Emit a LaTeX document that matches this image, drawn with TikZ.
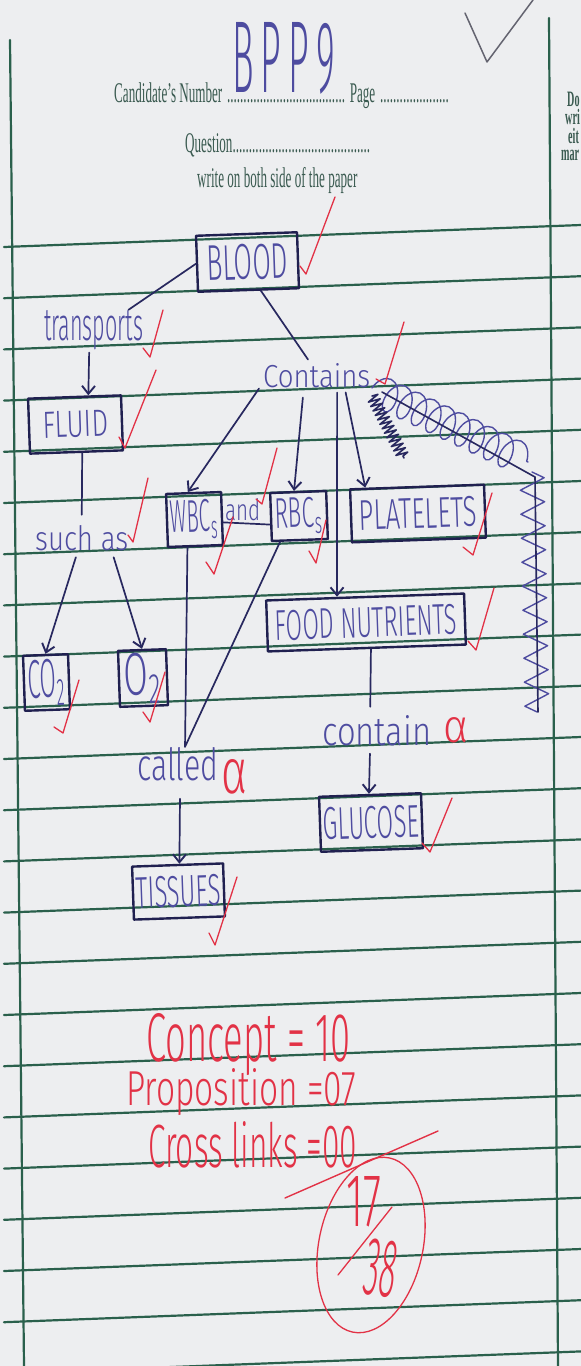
\documentclass[tikz,border=0pt]{standalone}
\usepackage{fontspec}
\usepackage{graphicx}
\setmainfont{Liberation Serif}
\newfontfamily\printed{Liberation Serif}[FakeStretch=0.46]
\newfontfamily\hand{Fira Sans Light}
\usetikzlibrary{arrows.meta,decorations.pathmorphing,calc}

\definecolor{paper}{RGB}{237,238,240}
\definecolor{rulegreen}{RGB}{42,96,76}
\definecolor{printink}{RGB}{58,90,80}
\definecolor{boxink}{RGB}{32,32,80}
\definecolor{penblue}{RGB}{78,76,160}
\definecolor{lineink}{RGB}{40,40,95}
\definecolor{redink}{RGB}{226,50,70}
\definecolor{pencil}{RGB}{100,100,112}

% squeeze a piece of handwriting into a given width and height
\newcommand\fitto[3]{\resizebox{#1pt}{#2pt}{#3}}

\begin{document}
\begin{tikzpicture}[x=1pt,y=-1pt,line cap=round,line join=round,
  concept/.style={draw=boxink,line width=2.4pt,inner sep=0pt,rotate=2,text=penblue,font=\hand},
  linkword/.style={inner sep=0pt,text=penblue,font=\hand},
  link/.style={draw=lineink,line width=1.7pt},
  arrowlink/.style={link,-{Straight Barb[length=8pt,width=13pt,line width=1.9pt]}},
  tick/.style={draw=redink,line width=1.3pt},
  score/.style={inner sep=0pt,text=redink,font=\hand},
  printed/.style={inner sep=0pt,text=printink,font=\printed\fontsize{28.5}{28.5}\selectfont,anchor=base west},
  marginnote/.style={inner sep=0pt,text=printink,font=\printed\fontsize{22}{22}\selectfont\bfseries,anchor=base west},
  ruleline/.style={draw=rulegreen,line width=2.2pt}]

\clip (0,0) rectangle (581,1366);
\fill[paper] (0,0) rectangle (581,1366);

% ruled paper
\foreach \k in {0,...,22}{
  \draw[ruleline] (4,{247+51.2*\k}) -- (581,{225+51.2*\k});
}
\draw[ruleline] (10,40) -- (24,1366);
\draw[ruleline] (549,18) -- (558,1366);

% printed header
\node[printed] (cand) at (114,102) {Candidate’s Number\,....................................\,Page\,.....................};
\node[printed] (question) at (185,152) {Question..........................................};
\node[printed] (side) at (197,187) {write on both side of the paper};
\node[marginnote] (m1) at (567,106) {Do};
\node[marginnote] (m2) at (565,124) {wri};
\node[marginnote] (m3) at (568,143) {eit};
\node[marginnote] (m4) at (561,160) {mar};

% candidate number and pencil tick
\node[linkword,anchor=base west] (candno) at (232,92) {\fitto{103}{70}{B\kern2pt P\kern2pt P\kern2pt 9}};
\draw[pencil,line width=1.5pt] (465,13) -- (487,62) -- (533,0);

% concepts
\node[concept,minimum width=101pt,minimum height=56pt] (blood) at (247.5,262) {\fitto{81}{35}{BLOOD}};
\node[concept,minimum width=93pt,minimum height=55pt] (fluid) at (75.5,424.5) {\fitto{65}{26}{FLUID}};
\node[concept,minimum width=55pt,minimum height=53pt] (wbc) at (194.5,519.5) {\fitto{48}{32}{WBC\textsubscript{s}}};
\node[concept,minimum width=56pt,minimum height=48pt] (rbc) at (299,516) {\fitto{48}{30}{RBC\textsubscript{s}}};
\node[concept,minimum width=134pt,minimum height=53pt] (platelets) at (418,513.5) {\fitto{118}{30}{PLATELETS}};
\node[concept,minimum width=198pt,minimum height=51pt] (food) at (366,622.5) {\fitto{182}{30}{FOOD NUTRIENTS}};
\node[concept,minimum width=45pt,minimum height=55pt] (co2) at (46.5,682.5) {\fitto{38}{38}{CO\textsubscript{2}}};
\node[concept,minimum width=48pt,minimum height=56pt] (o2) at (143,678) {\fitto{38}{42}{O\textsubscript{2}}};
\node[concept,minimum width=102pt,minimum height=55pt] (glucose) at (371,822.5) {\fitto{96}{32}{GLUCOSE}};
\node[concept,minimum width=91pt,minimum height=53pt] (tissues) at (178.5,891.5) {\fitto{85}{31}{TISSUES}};

% linking words
\node[linkword,anchor=base west] (transports) at (44,340) {\fitto{99}{30}{transports}};
\node[linkword,anchor=base west] (contains) at (263,387) {\fitto{107}{24}{Contains}};
\node[linkword,anchor=base west] (suchas) at (35,550) {\fitto{93}{25}{such as}};
\node[linkword,anchor=base west] (and) at (225,520) {\fitto{35}{22}{and}};
\node[linkword,anchor=base west] (called) at (137,780) {\fitto{81}{33}{called}};
\node[linkword,anchor=base west] (contain) at (322,745) {\fitto{109}{30}{contain}};

% links
\draw[link] (blood.west) -- ($(transports.north)!0.7!(transports.north east)$);
\draw[link,shorten >=4pt] ($(blood.south west)!0.62!(blood.south east)$) -- ($(contains.north west)!0.44!(contains.north east)$);
\draw[arrowlink,shorten <=3pt] ($(transports.south west)!0.455!(transports.south east)$) -- ($(fluid.north west)!0.645!(fluid.north east)$);
\draw[link,shorten >=10pt] ($(fluid.south west)!0.56!(fluid.south east)$) -- (suchas.north);
\draw[arrowlink,shorten <=7pt] ($(suchas.south west)!0.46!(suchas.south east)$) -- (co2.north);
\draw[arrowlink,shorten <=7pt] ($(suchas.south west)!0.82!(suchas.south east)$) -- (o2.north);
\draw[arrowlink] ($(contains.south west)+(-4,1)$) -- ($(wbc.north west)!0.4!(wbc.north east)$);
\draw[arrowlink,shorten <=10pt] ($(contains.south west)!0.38!(contains.south east)$) -- ($(rbc.north west)!0.43!(rbc.north east)$);
\draw[arrowlink,shorten <=5pt] ($(contains.south west)!0.69!(contains.south east)$) -- ($(food.north west)!0.36!(food.north east)$);
\draw[arrowlink,shorten <=5pt] ($(contains.south west)!0.76!(contains.south east)$) -- ($(platelets.north west)!0.12!(platelets.north east)$);
\draw[link] ($(wbc.south east)!0.43!(wbc.north east)$) -- ($(rbc.south west)!0.35!(rbc.north west)$);
\coordinate (meet) at ($(called.north west)!0.59!(called.north east)$);
\draw[link] ($(wbc.south west)!0.36!(wbc.south east)$) -- (meet);
\draw[link] ($(rbc.south west)!0.16!(rbc.south east)$) -- (meet);
\draw[arrowlink,shorten <=18pt] ($(called.south west)!0.53!(called.south east)$) -- ($(tissues.north west)!0.52!(tissues.north east)$);
\draw[link,shorten >=8pt] ($(food.south west)!0.52!(food.south east)$) -- ($(contain.north west)!0.44!(contain.north east)$);
\draw[arrowlink,shorten <=8pt] ($(contain.south west)!0.44!(contain.south east)$) -- ($(glucose.north west)!0.49!(glucose.north east)$);

% crossed-out link
\draw[penblue,line width=1.4pt,decorate,decoration={coil,amplitude=16pt,segment length=16pt,aspect=0.6}] (372,388) -- (528,462);
\draw[penblue,line width=1.4pt,decorate,decoration={zigzag,amplitude=12pt,segment length=24pt}] (532,472) -- (537,712);
\draw[lineink,line width=1.6pt] (382,392) -- (535,477) -- (538,712);
\draw[lineink,line width=1.6pt,decorate,decoration={zigzag,amplitude=6pt,segment length=5pt}] (372,396) -- (404,458);

% red ticks
\draw[tick] (300,266) -- (306,274) -- (335,197);
\draw[tick] (143,348) -- (150,357) -- (163,310);
\draw[tick] (119,437) -- (125,448) -- (156,370);
\draw[tick] (376,379) -- (385,384) -- (404,322);
\draw[tick] (128,535) -- (133,542) -- (148,478);
\draw[tick] (256,499) -- (262,504) -- (277,448);
\draw[tick] (206,562) -- (214,574) -- (233,517);
\draw[tick] (309,551) -- (316,563) -- (326,520);
\draw[tick] (463,547) -- (473,555) -- (492,493);
\draw[tick] (468,641) -- (476,650) -- (494,588);
\draw[tick] (54,727) -- (63,733) -- (79,680);
\draw[tick] (143,712) -- (150,722) -- (165,672);
\draw[tick] (422,843) -- (430,852) -- (452,798);
\draw[tick] (209,933) -- (215,945) -- (237,877);
\node[score,anchor=base west] (alpha1) at (221,793) {\fitto{26}{34}{α}};
\node[score,anchor=base west] (alpha2) at (443,742) {\fitto{25}{25}{α}};

% marks
\node[score,anchor=base west] (concepts) at (146,1061) {\fitto{204}{48}{Concept = 10}};
\node[score,anchor=base west] (props) at (126,1105) {\fitto{230}{37}{Proposition =07}};
\node[score,anchor=base west] (cross) at (148,1167) {\fitto{209}{46}{Cross links =00}};
\draw[redink,line width=1.4pt] (285,1198) -- (438,1131);
\draw[redink,line width=1.3pt,rotate around={-12:(371,1245)}] (371,1245) ellipse [x radius=52,y radius=89];
\node[score] (seventeen) at (364,1202) {\fitto{35}{50}{17}};
\draw[redink,line width=1.3pt] (338,1275) -- (392,1207);
\node[score,rotate=-8] (thirtyeight) at (381,1268) {\fitto{32}{56}{38}};
\end{tikzpicture}
\end{document}
